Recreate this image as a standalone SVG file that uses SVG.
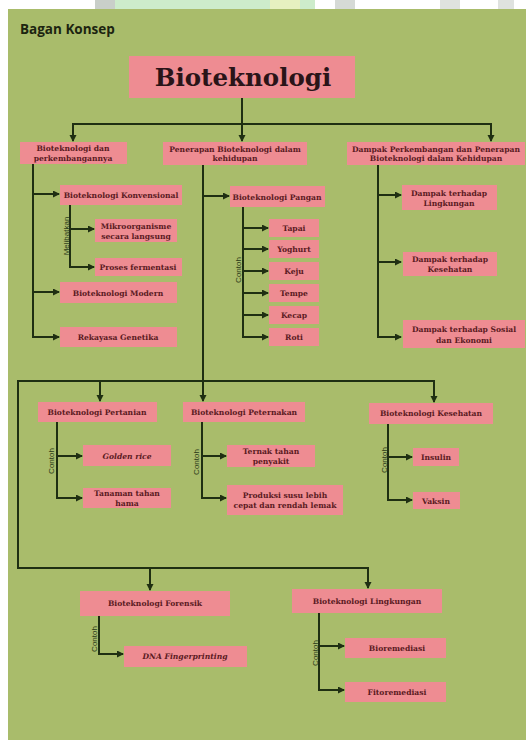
<svg xmlns="http://www.w3.org/2000/svg" width="526" height="740" viewBox="0 0 526 740">
<defs>
<marker id="arr" markerUnits="userSpaceOnUse" markerWidth="8" markerHeight="8" refX="6" refY="3.5" orient="auto">
<path d="M0,0 L7,3.5 L0,7 z" fill="#1f2f12"/>
</marker>
<style>
.box{fill:#ee8c92}
.t{font-family:"DejaVu Serif","Liberation Serif",serif;font-weight:bold;font-size:7.6px;fill:#5a1a22;text-anchor:middle}
.ti{font-style:italic}
.c{fill:none;stroke:#1f2f12;stroke-width:2}
.a{marker-end:url(#arr)}
.v{font-family:"Liberation Sans","DejaVu Sans",sans-serif;font-size:8px;fill:#2a3a18;text-anchor:middle}
</style>
</defs>
<rect x="0" y="0" width="526" height="740" fill="#ffffff"/>
<rect x="115" y="0" width="200" height="9" fill="#cdeccb"/>
<rect x="270" y="0" width="30" height="9" fill="#e6f0c0"/>
<rect x="95" y="0" width="20" height="9" fill="#c9cfc9"/>
<rect x="335" y="0" width="20" height="9" fill="#d6dad6"/>
<rect x="440" y="0" width="20" height="9" fill="#dfe2df"/>
<rect x="498" y="0" width="16" height="9" fill="#dfe2df"/>
<rect x="8" y="9" width="518" height="731" fill="#a9bc6b"/>
<text x="20" y="34" font-family="'Open Sans','DejaVu Sans',sans-serif" font-weight="bold" font-size="13.5" fill="#1c2410">Bagan Konsep</text>

<g id="connectors">
<path class="c a" d="M242,98 V141"/>
<path class="c" d="M72,124 H492"/>
<path class="c a" d="M73,123 V141"/>
<path class="c a" d="M491,123 V141"/>
<path class="c" d="M33,164 V338"/>
<path class="c a" d="M33,194 H59"/>
<path class="c a" d="M33,292 H59"/>
<path class="c a" d="M32,337 H59"/>
<path class="c" d="M70,205 V268"/>
<path class="c a" d="M70,229 H94"/>
<path class="c a" d="M69,267 H94"/>
<path class="c" d="M203,165 V382"/>
<path class="c a" d="M203,196 H229"/>
<path class="c" d="M243,207 V338"/>
<path class="c a" d="M243,228 H268"/>
<path class="c a" d="M243,249 H268"/>
<path class="c a" d="M243,271 H268"/>
<path class="c a" d="M243,293 H268"/>
<path class="c a" d="M243,315 H268"/>
<path class="c a" d="M242,337 H268"/>
<path class="c" d="M378,165 V338"/>
<path class="c a" d="M378,195 H401"/>
<path class="c a" d="M378,262 H401"/>
<path class="c a" d="M377,337 H401"/>
<path class="c" d="M18,381 H435"/>
<path class="c" d="M18,380 V568 H369"/>
<path class="c a" d="M100,380 V401"/>
<path class="c a" d="M203,380 V401"/>
<path class="c a" d="M434,380 V402"/>
<path class="c" d="M57,422 V499"/>
<path class="c a" d="M57,456 H82"/>
<path class="c a" d="M56,498 H82"/>
<path class="c" d="M202,422 V499"/>
<path class="c a" d="M202,456 H226"/>
<path class="c a" d="M201,498 H226"/>
<path class="c" d="M388,424 V501"/>
<path class="c a" d="M388,457 H412"/>
<path class="c a" d="M387,500 H412"/>
<path class="c a" d="M150,567 V590"/>
<path class="c a" d="M368,567 V588"/>
<path class="c a" d="M99,616 V654 H123"/>
<path class="c" d="M319,613 V691"/>
<path class="c a" d="M319,646 H344"/>
<path class="c a" d="M318,690 H344"/>
</g>

<text class="v" transform="translate(69,236) rotate(-90)">Melibatkan</text>
<text class="v" transform="translate(241,270) rotate(-90)">Contoh</text>
<text class="v" transform="translate(54,461) rotate(-90)">Contoh</text>
<text class="v" transform="translate(199,462) rotate(-90)">Contoh</text>
<text class="v" transform="translate(387,460) rotate(-90)">Contoh</text>
<text class="v" transform="translate(97,639) rotate(-90)">Contoh</text>
<text class="v" transform="translate(318,653) rotate(-90)">Contoh</text>

<g id="root"><rect class="box" x="129" y="56" width="226" height="42"/>
<text x="243" y="86" font-family="'DejaVu Serif','Liberation Serif',serif" font-weight="bold" font-size="24.5" fill="#2a1418" text-anchor="middle">Bioteknologi</text></g>

<g id="n-perkembangan"><rect class="box" x="20" y="142" width="107" height="22"/>
<text class="t" x="73" y="151">Bioteknologi dan</text><text class="t" x="73" y="160.5">perkembangannya</text></g>
<g id="n-penerapan"><rect class="box" x="163" y="142" width="144" height="23"/>
<text class="t" x="235" y="151.5">Penerapan Bioteknologi dalam</text><text class="t" x="235" y="161">kehidupan</text></g>
<g id="n-dampak"><rect class="box" x="347" y="142" width="178" height="23"/>
<text class="t" x="436" y="151.5">Dampak Perkembangan dan Penerapan</text><text class="t" x="436" y="161">Bioteknologi dalam Kehidupan</text></g>

<g id="n-konvensional"><rect class="box" x="60" y="185" width="122" height="20"/>
<text class="t" x="121" y="197.5">Bioteknologi Konvensional</text></g>
<g id="n-mikro"><rect class="box" x="95" y="219" width="82" height="23"/>
<text class="t" x="136" y="228.5">Mikroorganisme</text><text class="t" x="136" y="238.5">secara langsung</text></g>
<g id="n-fermentasi"><rect class="box" x="95" y="258" width="87" height="18"/>
<text class="t" x="138" y="269.5">Proses fermentasi</text></g>
<g id="n-modern"><rect class="box" x="60" y="282" width="117" height="21"/>
<text class="t" x="118" y="295.5">Bioteknologi Modern</text></g>
<g id="n-rekayasa"><rect class="box" x="60" y="327" width="117" height="20"/>
<text class="t" x="118" y="339.5">Rekayasa Genetika</text></g>

<g id="n-pangan"><rect class="box" x="230" y="186" width="95" height="21"/>
<text class="t" x="277" y="199.5">Bioteknologi Pangan</text></g>
<g id="n-tapai"><rect class="box" x="269" y="219" width="50" height="18"/><text class="t" x="294" y="230.5">Tapai</text></g>
<g id="n-yoghurt"><rect class="box" x="269" y="240" width="50" height="18"/><text class="t" x="294" y="251.5">Yoghurt</text></g>
<g id="n-keju"><rect class="box" x="269" y="262" width="50" height="18"/><text class="t" x="294" y="273.5">Keju</text></g>
<g id="n-tempe"><rect class="box" x="269" y="284" width="50" height="18"/><text class="t" x="294" y="295.5">Tempe</text></g>
<g id="n-kecap"><rect class="box" x="269" y="306" width="50" height="18"/><text class="t" x="294" y="317.5">Kecap</text></g>
<g id="n-roti"><rect class="box" x="269" y="328" width="50" height="18"/><text class="t" x="294" y="339.5">Roti</text></g>

<g id="n-d-lingkungan"><rect class="box" x="402" y="185" width="95" height="25"/>
<text class="t" x="449" y="195.5">Dampak terhadap</text><text class="t" x="449" y="205.5">Lingkungan</text></g>
<g id="n-d-kesehatan"><rect class="box" x="403" y="252" width="94" height="24"/>
<text class="t" x="450" y="262">Dampak terhadap</text><text class="t" x="450" y="272">Kesehatan</text></g>
<g id="n-d-sosial"><rect class="box" x="403" y="320" width="122" height="28"/>
<text class="t" x="464" y="332">Dampak terhadap Sosial</text><text class="t" x="464" y="342.5">dan Ekonomi</text></g>

<g id="n-pertanian"><rect class="box" x="38" y="402" width="119" height="20"/>
<text class="t" x="97" y="414.5">Bioteknologi Pertanian</text></g>
<g id="n-peternakan"><rect class="box" x="183" y="402" width="122" height="20"/>
<text class="t" x="244" y="414.5">Bioteknologi Peternakan</text></g>
<g id="n-kesehatan"><rect class="box" x="369" y="403" width="124" height="21"/>
<text class="t" x="431" y="416">Bioteknologi Kesehatan</text></g>

<g id="n-golden"><rect class="box" x="83" y="445" width="88" height="21"/>
<text class="t ti" x="127" y="458.5">Golden rice</text></g>
<g id="n-tanaman"><rect class="box" x="83" y="488" width="88" height="20"/>
<text class="t" x="127" y="496">Tanaman tahan</text><text class="t" x="127" y="505.5">hama</text></g>
<g id="n-ternak"><rect class="box" x="227" y="445" width="88" height="22"/>
<text class="t" x="271" y="454">Ternak tahan</text><text class="t" x="271" y="463.5">penyakit</text></g>
<g id="n-produksi"><rect class="box" x="227" y="485" width="116" height="30"/>
<text class="t" x="285" y="497.5">Produksi susu lebih</text><text class="t" x="285" y="507.5">cepat dan rendah lemak</text></g>
<g id="n-insulin"><rect class="box" x="413" y="448" width="46" height="18"/>
<text class="t" x="436" y="459.5">Insulin</text></g>
<g id="n-vaksin"><rect class="box" x="413" y="492" width="47" height="17"/>
<text class="t" x="436" y="503.5">Vaksin</text></g>

<g id="n-forensik"><rect class="box" x="80" y="591" width="150" height="25"/>
<text class="t" x="155" y="606">Bioteknologi Forensik</text></g>
<g id="n-lingkungan"><rect class="box" x="292" y="589" width="150" height="24"/>
<text class="t" x="367" y="604">Bioteknologi Lingkungan</text></g>
<g id="n-dna"><rect class="box" x="124" y="646" width="123" height="21"/>
<text class="t ti" x="185" y="659">DNA Fingerprinting</text></g>
<g id="n-bioremediasi"><rect class="box" x="345" y="638" width="101" height="20"/>
<text class="t" x="397" y="651">Bioremediasi</text></g>
<g id="n-fitoremediasi"><rect class="box" x="345" y="682" width="101" height="20"/>
<text class="t" x="397" y="695">Fitoremediasi</text></g>
</svg>
